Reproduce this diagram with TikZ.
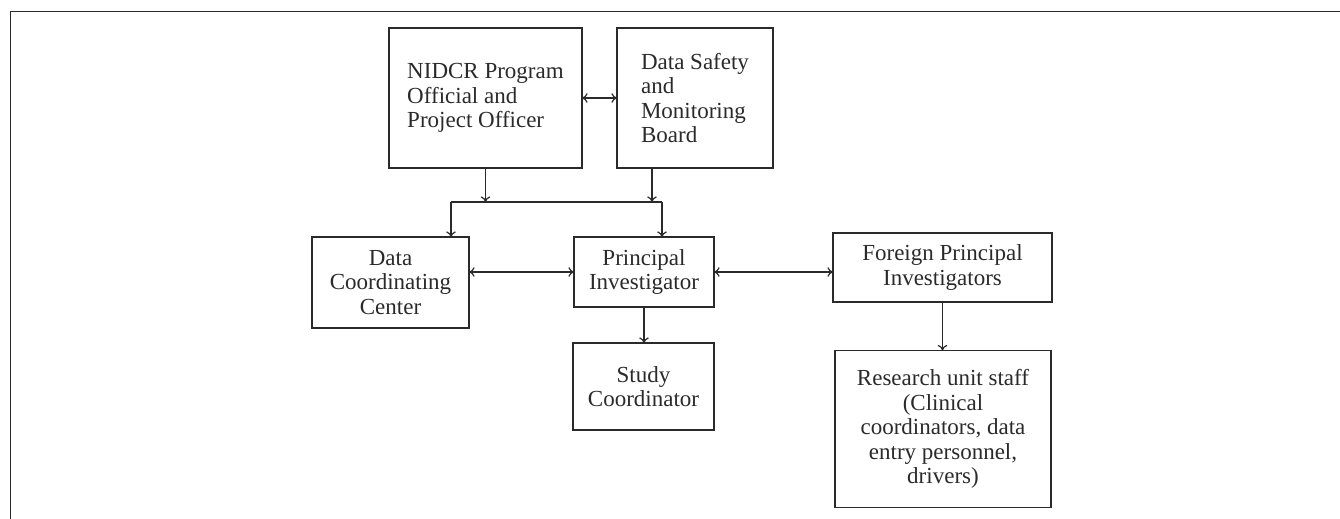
\documentclass[tikz,border=0pt]{standalone}
\usepackage{fontspec}
\setmainfont{Liberation Serif}
\usetikzlibrary{arrows.meta}
\definecolor{ink}{HTML}{2A2A2A}
\tikzset{
  box/.style={draw=ink, line width=0.8pt, rectangle, inner sep=0pt, outer sep=0pt,
    text=ink, font=\fontsize{11.5pt}{12.2pt}\selectfont},
  conn/.style={draw=ink, line width=0.6pt},
  arr/.style={conn, -{To[length=2.8pt,width=4.8pt]}},
  biarr/.style={conn, {To[length=2.8pt,width=4.8pt]}-{To[length=2.8pt,width=4.8pt]}},
}
\begin{document}
\begin{tikzpicture}[x=0.5pt,y=-0.5pt]
\useasboundingbox (0,0) rectangle (1340,519);
\draw[draw=ink, line width=0.9pt] (10.5,519) -- (10.5,11.5) -- (1340,11.5);

\node[box, align=left, minimum width=96.5pt, minimum height=70pt] (nidcr) at (485.5,98)
  {NIDCR Program\\Official and\\Project Officer};
\node[box, align=left, minimum width=78pt, minimum height=70pt] (dsmb) at (695,98)
  {Data Safety\\and\\Monitoring\\Board};
\node[box, align=center, minimum width=78.5pt, minimum height=45.5pt] (dcc) at (390.5,282.5)
  {Data\\Coordinating\\Center};
\node[box, align=center, minimum width=70pt, minimum height=35pt] (pi) at (644,272)
  {Principal\\Investigator};
\node[box, align=center, minimum width=109.5pt, minimum height=34.5pt] (foreign) at (942.5,267.5)
  {Foreign Principal\\Investigators};
\node[box, align=center, minimum width=70.5pt, minimum height=43.5pt] (study) at (643.5,386.5)
  {Study\\Coordinator};
\node[box, align=center, minimum width=108pt, minimum height=78.5pt] (research) at (943,429)
  {Research unit staff\\(Clinical\\coordinators, data\\entry personnel,\\drivers)};

\coordinate (jl) at (451,202);
\coordinate (jr) at (662,202);
\coordinate (dsmbout) at ([xshift=-21.5pt]dsmb.south);

\draw[biarr] (nidcr.east) -- (dsmb.west);
\draw[arr] (nidcr.south) -- (nidcr.south |- jl);
\draw[arr] (dsmbout) -- (dsmbout |- jl);
\draw[conn] (jl) -- (jr);
\draw[arr] (jl) -- (jl |- dcc.north);
\draw[arr] (jr) -- (jr |- pi.north);
\draw[biarr] (dcc.east |- pi.west) -- (pi.west);
\draw[biarr] (pi.east) -- (pi.east -| foreign.west);
\draw[arr] (pi.south) -- (pi.south |- study.north);
\draw[arr] (foreign.south) -- (foreign.south |- research.north);
\end{tikzpicture}
\end{document}
